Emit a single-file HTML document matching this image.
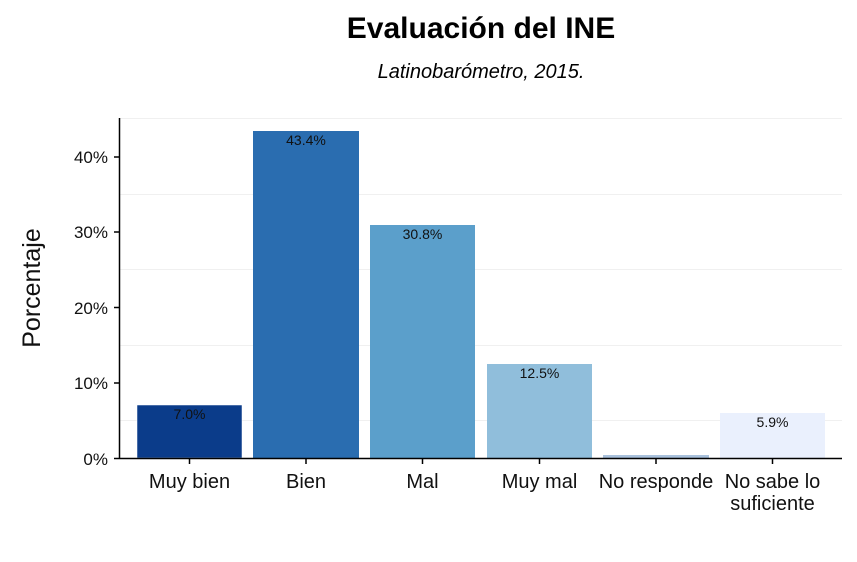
<!DOCTYPE html>
<html><head><meta charset="utf-8"><style>body{margin:0;background:#fff}</style></head><body>
<svg width="857" height="557" xmlns="http://www.w3.org/2000/svg" font-family="Liberation Sans, sans-serif">
<rect width="857" height="557" fill="#fff"/>
<text x="481" y="38" font-size="30" font-weight="bold" text-anchor="middle" fill="#000">Evaluación del INE</text>
<text x="481" y="78" font-size="20" font-style="italic" text-anchor="middle" fill="#000">Latinobarómetro, 2015.</text>
<g stroke="#f0f0f0" stroke-width="1">
<line x1="120" x2="842" y1="420.5" y2="420.5"/>
<line x1="120" x2="842" y1="345.5" y2="345.5"/>
<line x1="120" x2="842" y1="269.5" y2="269.5"/>
<line x1="120" x2="842" y1="194.5" y2="194.5"/>
<line x1="120" x2="842" y1="118.5" y2="118.5"/>
</g>
<rect x="137" y="405" width="105" height="53" fill="#0b3c8a" stroke="#fff" stroke-width="0.5"/>
<rect x="253" y="131" width="106" height="327" fill="#2a6db0"/>
<rect x="370" y="225" width="105" height="233" fill="#5b9fcb"/>
<rect x="487" y="364" width="105" height="94" fill="#90bedb"/>
<rect x="603" y="455" width="106" height="3" fill="#a9c1dc"/>
<rect x="720" y="413" width="105" height="45" fill="#eaf0fd"/>
<g font-size="14" text-anchor="middle" fill="#111">
<text x="189.5" y="419">7.0%</text>
<text x="306" y="145">43.4%</text>
<text x="422.5" y="239">30.8%</text>
<text x="539.5" y="378">12.5%</text>
<text x="772.5" y="427">5.9%</text>
</g>
<line x1="119.5" x2="119.5" y1="118" y2="459" stroke="#000" stroke-width="1.5"/>
<line x1="119" x2="842" y1="458.5" y2="458.5" stroke="#000" stroke-width="1.5"/>
<g stroke="#000" stroke-width="1.5">
<line x1="114" x2="119" y1="458.5" y2="458.5"/>
<line x1="114" x2="119" y1="383" y2="383"/>
<line x1="114" x2="119" y1="307.5" y2="307.5"/>
<line x1="114" x2="119" y1="232" y2="232"/>
<line x1="114" x2="119" y1="157" y2="157"/>
<line x1="189.5" x2="189.5" y1="459" y2="464"/>
<line x1="306" x2="306" y1="459" y2="464"/>
<line x1="422.5" x2="422.5" y1="459" y2="464"/>
<line x1="539.5" x2="539.5" y1="459" y2="464"/>
<line x1="656" x2="656" y1="459" y2="464"/>
<line x1="772.5" x2="772.5" y1="459" y2="464"/>
</g>
<g font-size="17" text-anchor="end" fill="#111">
<text x="108" y="465">0%</text>
<text x="108" y="389">10%</text>
<text x="108" y="314">20%</text>
<text x="108" y="238">30%</text>
<text x="108" y="163">40%</text>
</g>
<g font-size="20" text-anchor="middle" fill="#111">
<text x="189.5" y="488">Muy bien</text>
<text x="306" y="488">Bien</text>
<text x="422.5" y="488">Mal</text>
<text x="539.5" y="488">Muy mal</text>
<text x="656" y="488">No responde</text>
<text x="772.5" y="488">No sabe lo</text>
<text x="772.5" y="510">suficiente</text>
</g>
<text transform="translate(40,288) rotate(-90)" font-size="25" text-anchor="middle" fill="#111">Porcentaje</text>
</svg>
</body></html>
